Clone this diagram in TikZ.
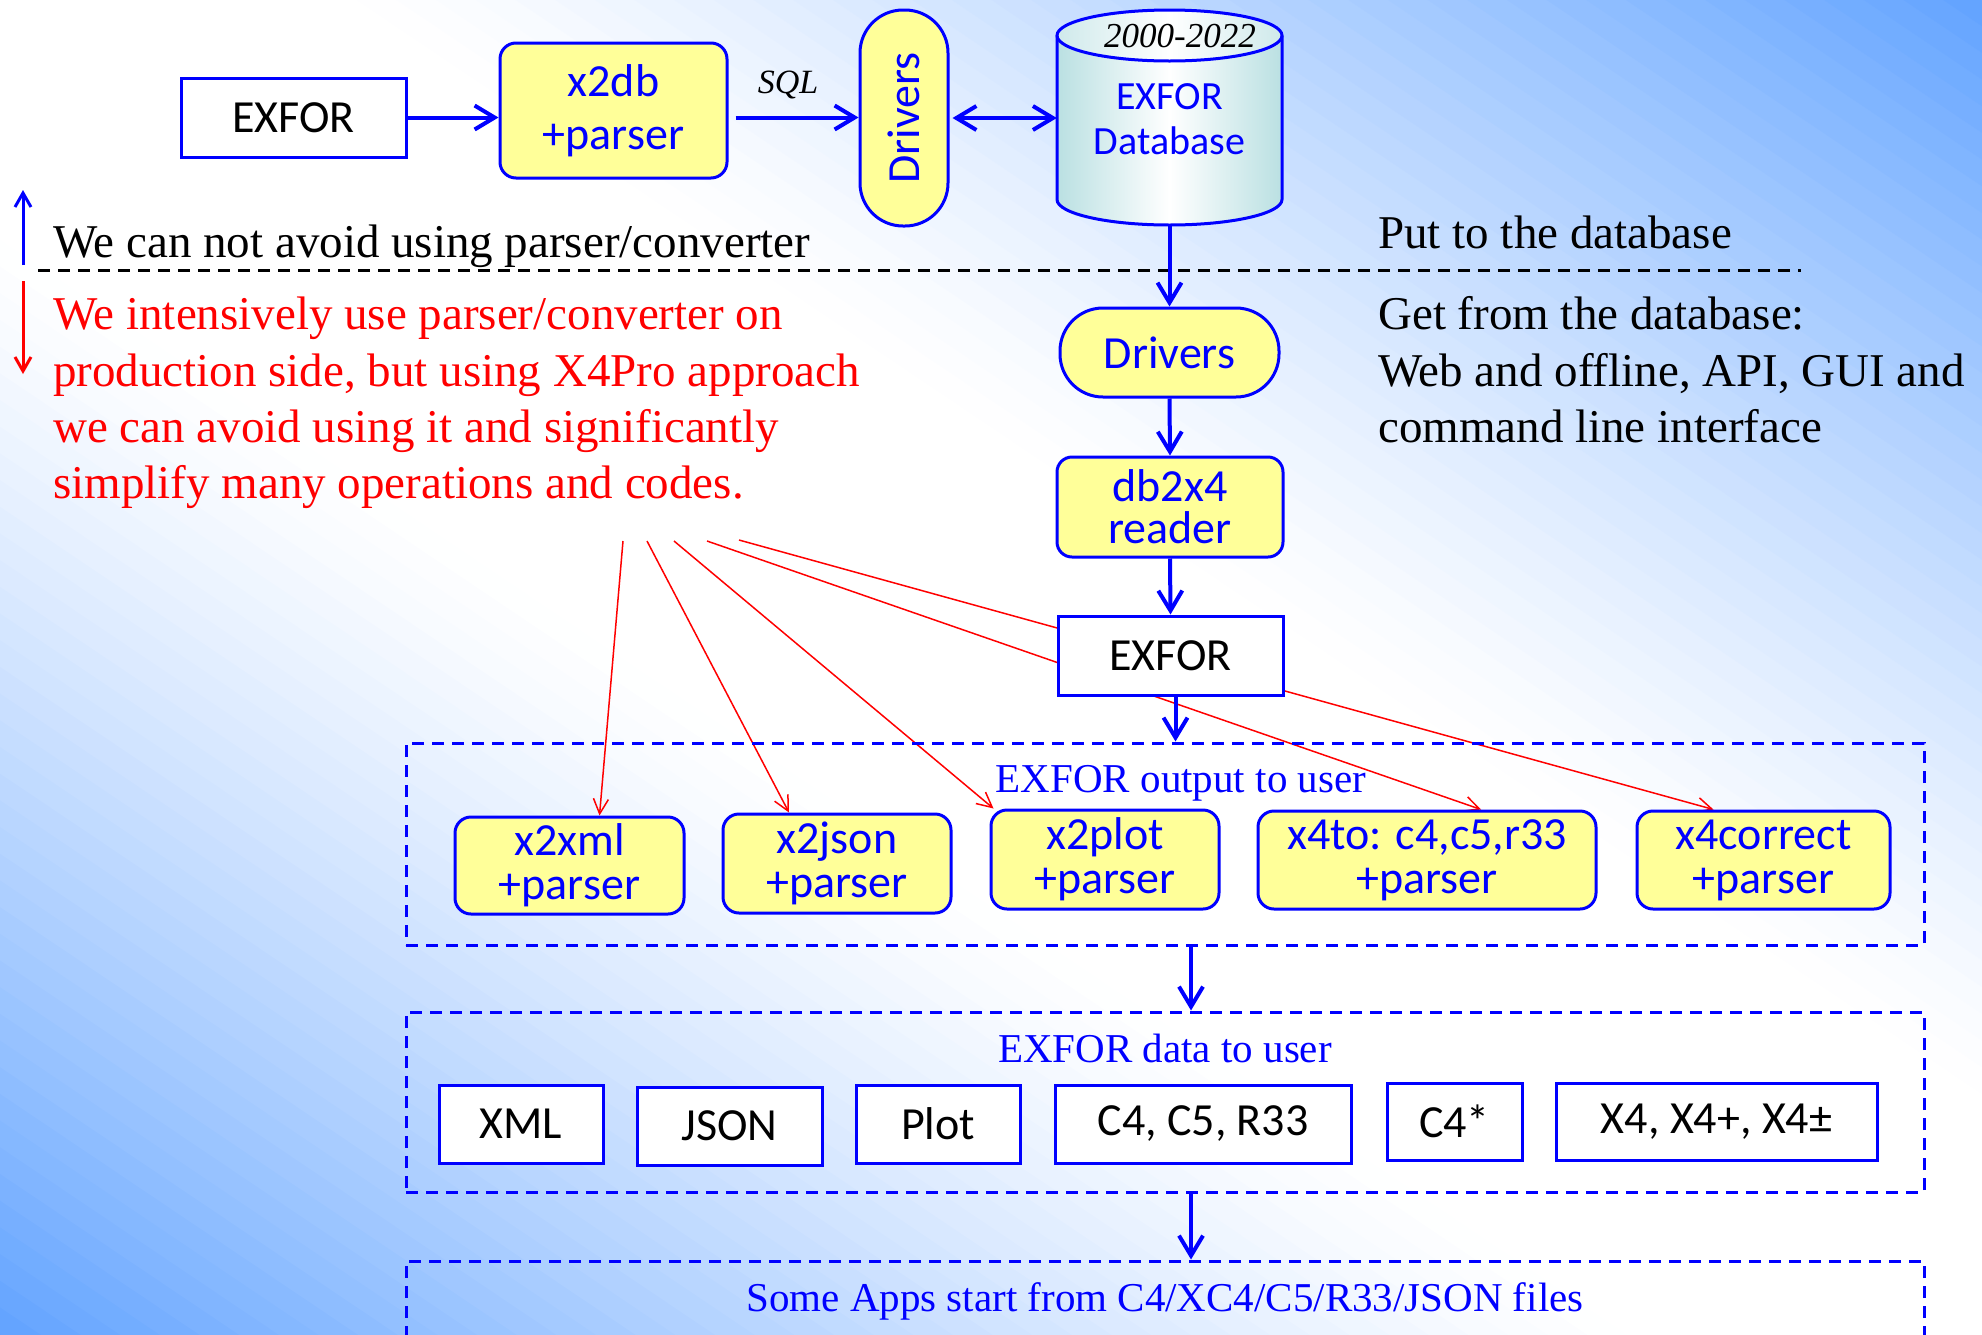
\documentclass[tikz,border=0pt]{standalone}
\usepackage{fontspec}
\setmainfont{Liberation Serif}
\newfontfamily\sff{Carlito}
\usetikzlibrary{arrows.meta,calc}
\definecolor{pblue}{RGB}{0,0,255}
\definecolor{pyellow}{RGB}{255,255,153}
\definecolor{bgblue}{RGB}{98,163,255}
\definecolor{cylc}{RGB}{186,224,226}
\definecolor{pred}{RGB}{255,0,0}
\pgfdeclarelayer{bglayer}
\pgfdeclarelayer{linelayer}
\pgfsetlayers{bglayer,linelayer,main}
\begin{document}
\begin{tikzpicture}[x=1pt,y=1pt,
  ybox/.style={draw=pblue, line width=3pt, fill=pyellow, rounded corners=16pt, text=pblue,
    font=\sff\fontsize{46}{44}\selectfont, align=center, inner sep=0pt},
  wbox/.style={draw=pblue, line width=3pt, fill=white, text=black,
    font=\sff\fontsize{46}{44}\selectfont, inner sep=0pt},
  grp/.style={draw=pblue, line width=3pt, dash pattern=on 12pt off 8pt, inner sep=0pt},
  serif/.style={font=\fontsize{47}{50}\selectfont, inner sep=0pt},
  gtitle/.style={font=\fontsize{41}{44}\selectfont, text=pblue, inner sep=0pt},
  barrow/.style={draw=pblue, line width=4pt, -{Straight Barb[length=20pt,width=24pt]}},
  barrowtwo/.style={draw=pblue, line width=4pt, {Straight Barb[length=20pt,width=24pt]}-{Straight Barb[length=20pt,width=24pt]}},
  thinarrow/.style={line width=3pt, -{Straight Barb[length=14pt,width=16pt]}},
  rarrow/.style={draw=pred, line width=1.5pt, -{Straight Barb[length=15pt,width=15pt]}},
]
\useasboundingbox (0,0) rectangle (1982,-1334);
\clip (0,0) rectangle (1982,-1334);

% background gradient
\begin{pgfonlayer}{bglayer}
\begin{scope}
\clip (0,0) rectangle (1982,-1334);
\fill[white] (0,0) rectangle (1982,-1334);
\foreach \k in {0,...,109}{
  \pgfmathsetmacro\sa{-1.1+0.02*\k}
  \pgfmathsetmacro\sb{\sa+0.023}
  \pgfmathsetmacro\sm{abs(\sa+0.01)}
  \pgfmathsetmacro\ff{100*pow(max(0.0001,min(1,(\sm-0.18)/0.82)),1.25)}
  \fill[bgblue!\ff!white] ({1982*(\sa-0.1)},{0.1*1334}) -- ({1982*(\sa+1.1)},{-1.1*1334})
     -- ({1982*(\sb+1.1)},{-1.1*1334}) -- ({1982*(\sb-0.1)},{0.1*1334}) -- cycle;
}
\end{scope}
\end{pgfonlayer}

% top row
\node[wbox, minimum width=225pt, minimum height=79pt] (exfor1) at (293.5,-117.5) {EXFOR};
\node[ybox, minimum width=227pt, minimum height=135pt, font=\sff\fontsize{46}{53}\selectfont] (x2db) at (613.5,-110.5) {x2db\\+parser};
\node[ybox, rounded corners=43pt, minimum width=88pt, minimum height=216pt] (drv1) at (904,-118) {\rotatebox{90}{Drivers}};

% cylinder
\shade[left color=cylc, right color=cylc, middle color=white] (1057,-35.5) -- (1057,-199.5)
  arc[start angle=180,end angle=360,x radius=112.5pt,y radius=25.5pt] -- (1282,-35.5) -- cycle;
\shade[left color=cylc!70, right color=cylc!70, middle color=white] (1169.5,-35.5) ellipse [x radius=112.5pt, y radius=25.5pt];
\draw[pblue, line width=3pt] (1057,-35.5) -- (1057,-199.5)
  arc[start angle=180,end angle=360,x radius=112.5pt,y radius=25.5pt] -- (1282,-35.5);
\draw[pblue, line width=3pt] (1169.5,-35.5) ellipse [x radius=112.5pt, y radius=25.5pt];
\node[minimum width=225pt, minimum height=215pt, inner sep=0pt] (db) at (1169.5,-117.5) {};
\node[font=\itshape\fontsize{35}{38}\selectfont, inner sep=0pt, anchor=base] (yrs) at (1180,-47) {2000-2022};
\node[font=\sff\fontsize{40}{45}\selectfont, text=pblue, align=center, inner sep=0pt] (dbtxt) at (1169.5,-119) {EXFOR\\Database};

% right column
\node[ybox, rounded corners=43pt, minimum width=219pt, minimum height=89pt] (drv2) at (1169.5,-352.5) {Drivers};
\node[ybox, rounded corners=15pt, minimum width=226pt, minimum height=100pt, font=\sff\fontsize{46}{42}\selectfont] (db2x4) at (1170,-507) {db2x4\\reader};
\node[wbox, minimum width=225pt, minimum height=79pt] (exfor2) at (1170.5,-655.5) {EXFOR};

% groups
\node[grp, minimum width=1518pt, minimum height=202pt] (g1) at (1165,-844) {};
\node[grp, minimum width=1518pt, minimum height=180pt] (g2) at (1165,-1102) {};
\node[grp, minimum width=1518pt, minimum height=159pt] (g3) at (1165,-1340.5) {};
\node[gtitle, anchor=base] (g1t) at (1181,-792) {EXFOR output to user};
\node[gtitle, anchor=base] (g2t) at (1165,-1062) {EXFOR data to user};
\node[gtitle, anchor=base] (g3t) at (1165,-1311) {Some Apps start from C4/XC4/C5/R33/JSON files};

% group 1 boxes
\node[ybox, minimum width=229pt, minimum height=97pt] (x2xml) at (569.5,-865.5) {x2xml\\+parser};
\node[ybox, minimum width=228pt, minimum height=99pt] (x2json) at (837,-863.5) {x2json\\+parser};
\node[ybox, minimum width=228pt, minimum height=99pt] (x2plot) at (1105,-859.5) {x2plot\\+parser};
\node[ybox, minimum width=338pt, minimum height=98pt] (x4to) at (1427,-860) {x4to: c4,c5,r33\\+parser};
\node[ybox, minimum width=253pt, minimum height=98pt] (x4corr) at (1763.5,-860) {x4correct\\+parser};

% group 2 boxes
\node[wbox, minimum width=164pt, minimum height=78pt] (xml) at (521,-1124) {XML};
\node[wbox, minimum width=185pt, minimum height=78pt] (json) at (729.5,-1126) {JSON};
\node[wbox, minimum width=164pt, minimum height=78pt] (plot) at (938,-1124) {Plot};
\node[wbox, minimum width=296pt, minimum height=78pt] (c4c5) at (1203,-1124) {C4, C5, R33};
\node[wbox, minimum width=135pt, minimum height=77pt] (c4s) at (1454.5,-1121.5) {C4*};
\node[wbox, minimum width=321pt, minimum height=77pt] (x4) at (1716.5,-1121.5) {X4, X4+, X4±};

% texts
\node[serif, anchor=base west] (t1) at (53,-257) {We can not avoid using parser/converter};
\node[serif, text=pred, anchor=base west] (r1) at (53,-329) {We intensively use parser/converter on};
\node[serif, text=pred, anchor=base west] (r2) at (53,-386) {production side, but using X4Pro approach};
\node[serif, text=pred, anchor=base west] (r3) at (53,-442) {we can avoid using it and significantly};
\node[serif, text=pred, anchor=base west] (r4) at (53,-498) {simplify many operations and codes.};
\node[serif, anchor=base west] (p1) at (1378,-248) {Put to the database};
\node[serif, anchor=base west] (p2) at (1378,-329) {Get from the database:};
\node[serif, anchor=base west] (p3) at (1378,-386) {Web and offline, API, GUI and};
\node[serif, anchor=base west] (p4) at (1378,-442) {command line interface};

% dashed separator and side arrows
\coordinate (dl) at (38,-270);
\coordinate (dr) at (1801,-270);
\draw[black, line width=3pt, dash pattern=on 12pt off 8pt] (dl) -- (dr);
\coordinate (ua1) at (23,-265);
\coordinate (ua2) at (23,-190);
\coordinate (da1) at (23,-281);
\coordinate (da2) at (23,-374);
\draw[thinarrow, pblue] (ua1) -- (ua2);
\draw[thinarrow, pred] (da1) -- (da2);

% blue connectors
\draw[barrow] (exfor1.east) -- (exfor1.east -| x2db.west);
\coordinate (sqls) at ([xshift=7pt,yshift=-7pt]x2db.east);
\draw[barrow] (sqls) -- (sqls -| drv1.west);
\node[font=\itshape\fontsize{34}{36}\selectfont, inner sep=0pt, anchor=base] (sql) at (788,-93) {SQL};
\draw[barrowtwo] ([xshift=3pt]drv1.east) -- (drv1.east -| db.west);
\draw[barrow] (db.south) -- (drv2.north);
\draw[barrow] (drv2.south) -- (db2x4.north);
\draw[barrow] (db2x4.south) -- (exfor2.north);
\draw[barrow] ([xshift=5pt]exfor2.south) -- ([xshift=5pt]exfor2.south |- g1.north);
\draw[barrow] ([xshift=26pt]g1.south) -- ([xshift=26pt]g2.north);
\draw[barrow] ([xshift=26pt]g2.south) -- ([xshift=26pt]g3.north);

% red connectors (behind boxes)
\coordinate (rs1) at (623,-541);
\coordinate (rs2) at (647,-541);
\coordinate (rs3) at (674,-541);
\coordinate (rs4) at (707,-541);
\coordinate (rs5) at (739,-540);
\begin{pgfonlayer}{linelayer}
\draw[rarrow] (rs1) -- ([xshift=30pt]x2xml.north);
\draw[rarrow] (rs2) -- ([xshift=-48pt]x2json.north);
\draw[rarrow] (rs3) -- ([xshift=4pt]x2plot.north west);
\draw[rarrow] (rs4) -- ([xshift=54pt]x4to.north);
\draw[rarrow] (rs5) -- ([xshift=-50pt]x4corr.north);
\end{pgfonlayer}
\end{tikzpicture}
\end{document}
